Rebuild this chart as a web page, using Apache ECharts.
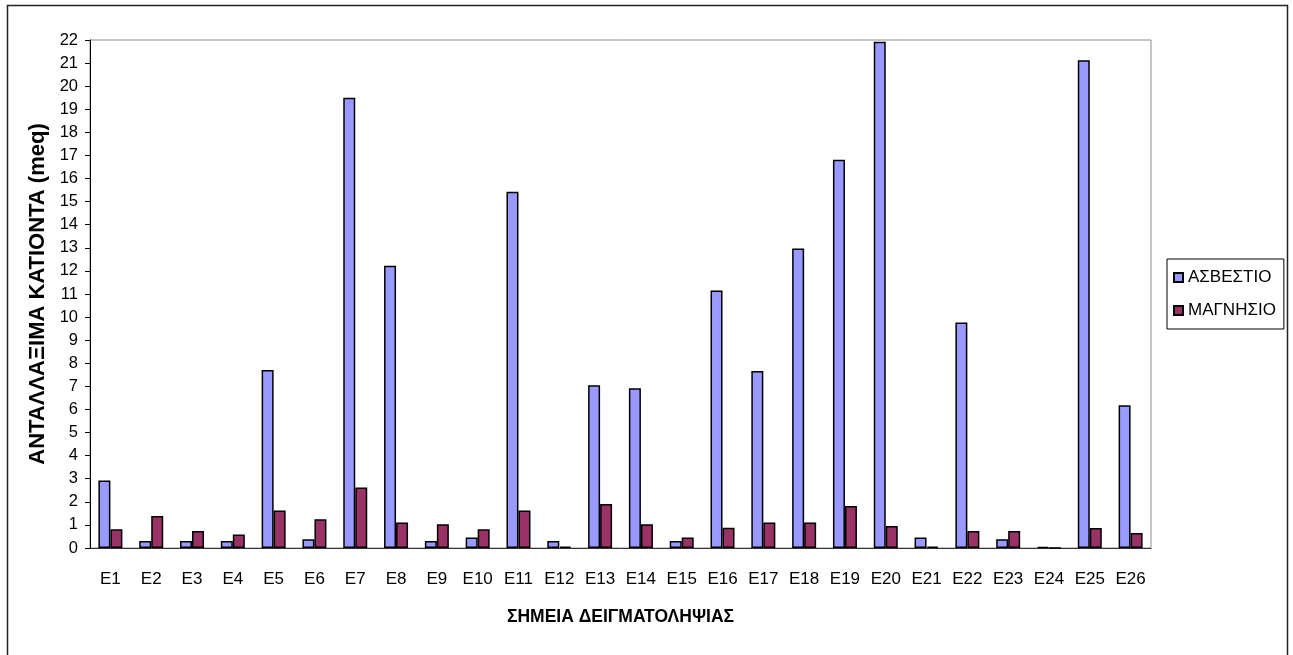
<!DOCTYPE html>
<html>
<head>
<meta charset="utf-8">
<script src="https://cdn.jsdelivr.net/npm/echarts@6/dist/echarts.min.js"></script>
<style>
html,body{margin:0;padding:0;background:#fff;}
#chart{width:1293px;height:655px;}
</style>
</head>
<body>
<div id="chart"></div>
<script>
const categories = ['E1','E2','E3','E4','E5','E6','E7','E8','E9','E10','E11','E12','E13','E14','E15','E16','E17','E18','E19','E20','E21','E22','E23','E24','E25','E26'];
const calcium = [2.92,0.3,0.3,0.3,7.71,0.38,19.5,12.22,0.3,0.45,15.43,0.3,7.05,6.92,0.3,11.15,7.66,12.97,16.81,21.92,0.45,9.77,0.38,0.05,21.12,6.18];
const magnesium = [0.81,1.39,0.74,0.58,1.62,1.24,2.62,1.1,1.03,0.81,1.62,0.06,1.91,1.03,0.45,0.88,1.1,1.1,1.82,0.95,0.06,0.74,0.74,0,0.87,0.65];
const seriesNames = ['ΑΣΒΕΣΤΙΟ','ΜΑΓΝΗΣΙΟ'];
const yTitle = 'ΑΝΤΑΛΛΑΞΙΜΑ ΚΑΤΙΟΝΤΑ (meq)';
const xTitle = 'ΣΗΜΕΙΑ ΔΕΙΓΜΑΤΟΛΗΨΙΑΣ';

const FONT = '"Liberation Sans", Arial, sans-serif';
const chart = echarts.init(document.getElementById('chart'), null, {renderer:'canvas'});
chart.setOption({
  animation: false,
  backgroundColor: '#fff',
  textStyle: {fontFamily: FONT},
  graphic: [{
    type: 'rect', silent: true, z: -1,
    shape: {x: 7.5, y: 5.5, width: 1280, height: 700},
    style: {fill: 'none', stroke: '#222', lineWidth: 1.5}
  }],
  grid: {left: 90, top: 40, right: 142, bottom: 107, show: true, borderColor: '#8c8c8c', borderWidth: 1, backgroundColor: 'transparent'},
  legend: {
    orient: 'vertical', left: 1167, top: 259,
    padding: [10, 8, 10, 6],
    itemWidth: 9, itemHeight: 9, itemGap: 16,
    borderColor: '#000', borderWidth: 1,
    icon: 'rect',
    textStyle: {fontFamily: FONT, fontSize: 17, color: '#000'},
    data: seriesNames
  },
  xAxis: {
    type: 'category', data: categories,
    name: xTitle, nameLocation: 'middle', nameGap: 60,
    nameTextStyle: {fontFamily: FONT, fontSize: 17.5, fontWeight: 'bold', color: '#000'},
    axisLine: {lineStyle: {color: '#333', width: 1}},
    axisTick: {length: 6, lineStyle: {color: '#333'}},
    axisLabel: {fontFamily: FONT, fontSize: 17, color: '#000', margin: 23, interval: 0}
  },
  yAxis: {
    type: 'value', min: 0, max: 22, interval: 1,
    name: yTitle, nameLocation: 'middle', nameRotate: 90, nameGap: 38,
    nameTextStyle: {fontFamily: FONT, fontSize: 22, fontWeight: 'bold', color: '#000'},
    axisLine: {show: true, lineStyle: {color: '#000', width: 1}},
    axisTick: {show: true, length: 5, lineStyle: {color: '#000'}},
    axisLabel: {fontFamily: FONT, fontSize: 16.5, color: '#000', margin: 12},
    splitLine: {show: false}
  },
  series: [
    {name: seriesNames[0], type: 'bar', data: calcium, barWidth: 12, barGap: '0%',
     itemStyle: {color: '#9999FF', borderColor: '#000', borderWidth: 1.5}},
    {name: seriesNames[1], type: 'bar', data: magnesium, barWidth: 12, barGap: '0%',
     itemStyle: {color: '#993366', borderColor: '#000', borderWidth: 1.5}}
  ]
});
</script>
</body>
</html>
